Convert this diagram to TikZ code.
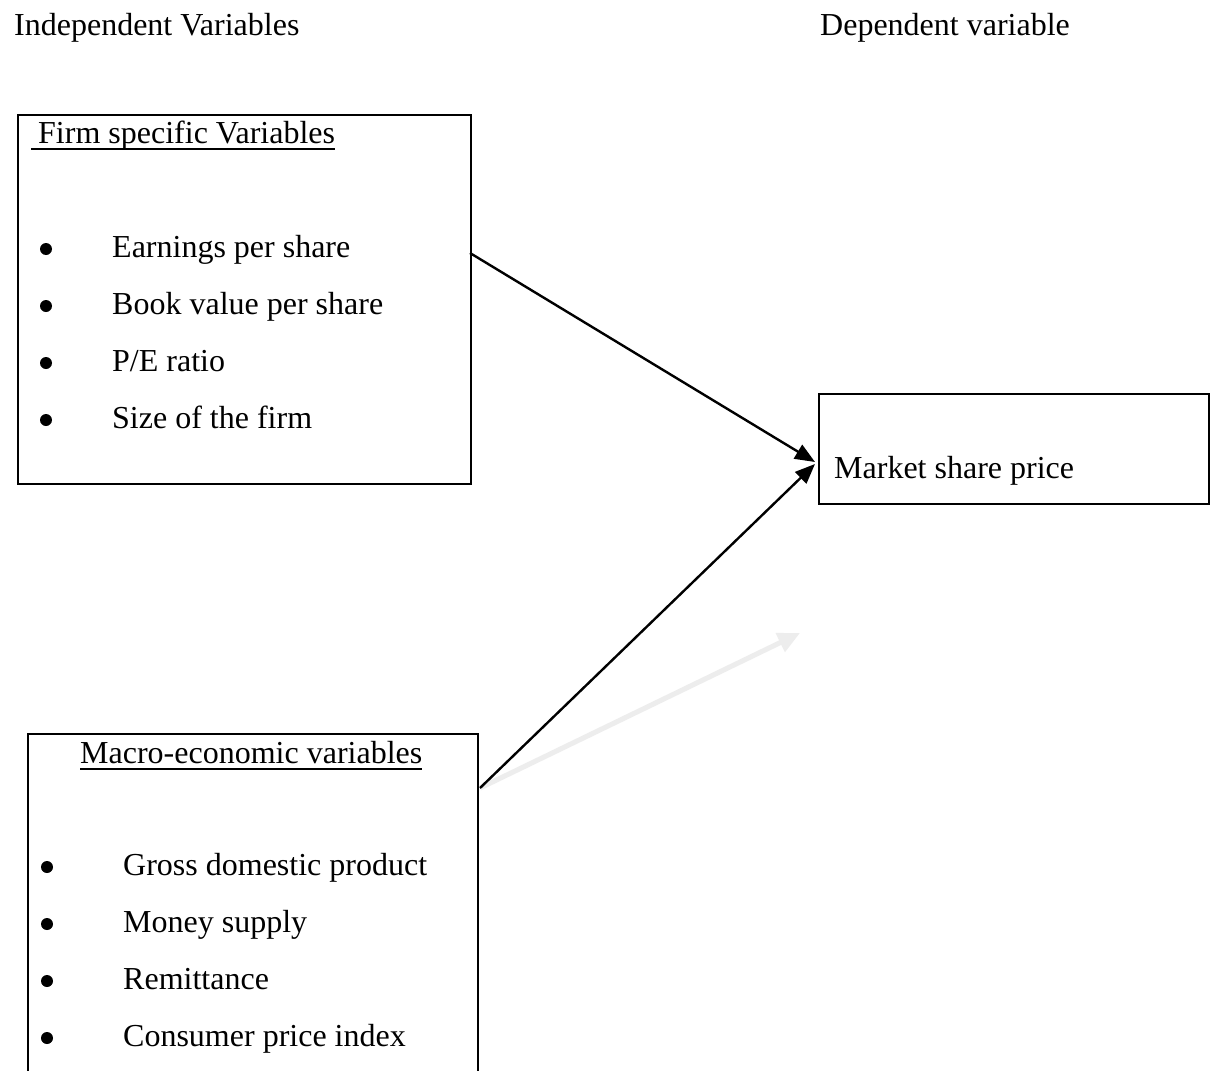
\documentclass[tikz,border=0pt]{standalone}
\usepackage{fontspec}
\setmainfont{Liberation Serif}
\usetikzlibrary{arrows.meta,calc}
\begin{document}
\begin{tikzpicture}[x=1pt,y=-1pt,
  txt/.style={anchor=base west, inner sep=0pt, font=\fontsize{32}{38}\selectfont},
  box/.style={draw, line width=2.4pt, inner sep=0pt, anchor=north west},
  dot/.style={circle, fill, inner sep=0pt, minimum size=12pt},
  arr/.style={line width=2.4pt, -{Triangle[length=20pt,width=16pt]}},
  faint/.style={line width=5pt, draw=black!7, -{Triangle[length=22pt,width=20pt]}},
  ul/.style={line width=1.8pt}]
\clip (0,0) rectangle (1214,1070);
\fill[white] (0,0) rectangle (1214,1070);
% headings
\node[txt] (indep) at (14,36) {Independent Variables};
\node[txt] (dep) at (820,36) {Dependent variable};
% boxes
\node[box, minimum width=453pt, minimum height=369pt] (firm) at (17,114) {};
\node[box, minimum width=450pt, minimum height=420pt] (macro) at (27,733) {};
\node[box, minimum width=390pt, minimum height=110pt] (price) at (818,393) {};
% firm box content
\node[txt] (ftitle) at (38,143) {Firm specific Variables};
\draw[ul] ($(ftitle.base west)+(-7,6)$) -- ($(ftitle.base east)+(0,6)$);
\node[dot] (b1) at (46,249) {};
\node[txt] (eps) at (112,257) {Earnings per share};
\node[dot] (b2) at (46,306) {};
\node[txt] (bvps) at (112,314) {Book value per share};
\node[dot] (b3) at (46,363) {};
\node[txt] (pe) at (112,371) {P/E ratio};
\node[dot] (b4) at (46,420) {};
\node[txt] (size) at (112,428) {Size of the firm};
% macro box content
\node[txt] (mtitle) at (80,763) {Macro-economic variables};
\draw[ul] ($(mtitle.base west)+(0,6)$) -- ($(mtitle.base east)+(0,6)$);
\node[dot] (c1) at (47,867) {};
\node[txt] (gdp) at (123,875) {Gross domestic product};
\node[dot] (c2) at (47,924) {};
\node[txt] (money) at (123,932) {Money supply};
\node[dot] (c3) at (47,981) {};
\node[txt] (remit) at (123,989) {Remittance};
\node[dot] (c4) at (47,1038) {};
\node[txt] (cpi) at (123,1046) {Consumer price index};
% price box content
\node[txt] (mprice) at (834,478) {Market share price};
% connector points
\coordinate (s1) at (470,253);
\coordinate (s2) at (480,788);
\coordinate (t1) at (815,462);
\coordinate (t2) at (815,464);
\coordinate (t3) at (800,633);
% arrows
\draw[faint] (s2) -- (t3);
\draw[arr] (s1) -- (t1);
\draw[arr] (s2) -- (t2);
\end{tikzpicture}
\end{document}
